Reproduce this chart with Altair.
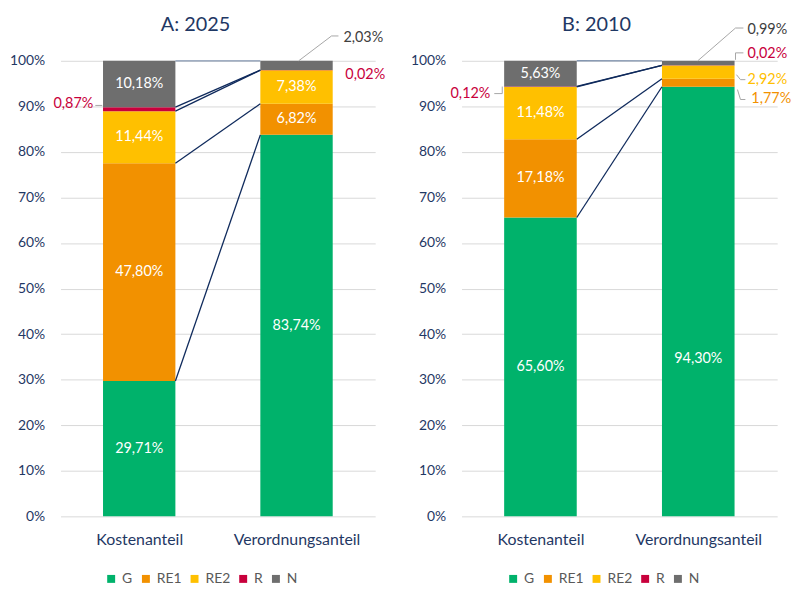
import altair as alt
import pandas as pd

# ---------------- data ----------------
segments = ["G", "RE1", "RE2", "R", "N"]
seg_colors = ["#00B26B", "#F29100", "#FFC000", "#C8003C", "#6E6E6E"]
categories = ["Kostenanteil", "Verordnungsanteil"]

a_kosten = [29.71, 47.80, 11.44, 0.87, 10.18]
a_verord = [83.74, 6.82, 7.38, 0.02, 2.03]
b_kosten = [65.60, 17.18, 11.48, 0.12, 5.63]
b_verord = [94.30, 1.77, 2.92, 0.02, 0.99]

title_a = "A: 2025"
title_b = "B: 2010"

# which segment labels sit inside the bar (True) or outside (False)
a_inside = [[True, True, True, False, True], [True, True, True, False, False]]
b_inside = [[True, True, True, False, True], [True, False, False, False, False]]

# ---------------- layout (not data) ----------------
NAVY = "#1F3864"
CENTERS = [1.0, 3.0]
HALF = 0.46
W_A, W_B, H = 317, 318, 459
FONT = "Lato"


def fmt(v):
    return f"{v:.2f}".replace(".", ",") + "%"


# manual label position overrides (bar index, segment index) -> y
a_label_y = {}
b_label_y = {(1, 0): 0.346}

# external label placement: (segment index, bar index, x, y, align)
a_ext = [(3, 0, 0.416, 0.906, "right"), (4, 1, 3.596, 1.050, "left"), (3, 1, 3.621, 0.9695, "left")]
a_lead = [
    [(3.028, 1.0), (3.445, 1.0545), (3.533, 1.0545)],
    [(0.442, 0.902), (0.53, 0.902)],
]
b_ext = [
    (3, 0, 0.365, 0.928, "right"),
    (4, 1, 3.623, 1.0675, "left"),
    (3, 1, 3.623, 1.0153, "left"),
    (2, 1, 3.623, 0.9586, "left"),
    (1, 1, 3.673, 0.915, "left"),
]
b_lead = [
    [(0.415, 0.928), (0.516, 0.928), (0.516, 0.9434)],
    [(2.994, 1.0), (3.472, 1.0719), (3.572, 1.0719)],
    [(3.472, 1.0022), (3.472, 1.0174), (3.572, 1.0174)],
    [(3.484, 0.9695), (3.535, 0.9586), (3.597, 0.9586)],
    [(3.497, 0.9368), (3.535, 0.915), (3.597, 0.915)],
]
ext_colors = {0: "#00B26B", 1: "#F29100", 2: "#FFC000", 3: "#C8003C", 4: "#404040"}


def make_panel(title, kosten, verord, inside, label_y, ext, leads, width, legend_x):
    rows = []
    for bi, vals in enumerate([kosten, verord]):
        cum = 0.0
        for si, v in enumerate(vals):
            y0 = cum / 100
            cum += v
            y1 = cum / 100
            rows.append(
                dict(cat=categories[bi], bi=bi, seg=segments[si], si=si,
                     xs=CENTERS[bi] - HALF, xe=CENTERS[bi] + HALF,
                     xc=CENTERS[bi],
                     y0=y0, y1=y1, ym=label_y.get((bi, si), (y0 + y1) / 2),
                     label=fmt(v), inside=inside[bi][si])
            )
    df = pd.DataFrame(rows)

    xscale = alt.Scale(domain=[0, 4], nice=False, zero=False)
    xaxis = alt.Axis(
        values=CENTERS, labelExpr="datum.value == 1 ? 'Kostenanteil' : 'Verordnungsanteil'",
        title=None, grid=False, ticks=False, domain=False, labelFontSize=16,
        labelColor=NAVY, labelFont=FONT, labelPadding=15,
    )
    yscale = alt.Scale(domain=[0, 1], nice=False)
    yaxis = alt.Axis(
        values=[i / 10 for i in range(11)], format="%", title=None, ticks=False,
        domain=False, labelFontSize=14, labelColor=NAVY, labelFont=FONT,
        labelPadding=16, gridColor="#D9D9D9", gridWidth=1,
    )

    def X(f):
        return alt.X(f, type="quantitative", scale=xscale, axis=xaxis)

    def Y(f):
        return alt.Y(f, type="quantitative", scale=yscale, axis=yaxis)

    bars = alt.Chart(df).mark_bar().encode(
        x=X("xs"), x2="xe", y=Y("y0"), y2="y1",
        color=alt.Color(
            "seg:N", scale=alt.Scale(domain=segments, range=seg_colors),
            legend=alt.Legend(
                orient="none", legendX=legend_x, legendY=515, direction="horizontal",
                title=None, symbolType="square", symbolSize=64, symbolStrokeWidth=0,
                labelFontSize=14, labelColor="#595959", labelFont=FONT,
                columnPadding=6, labelOffset=4,
            ),
        ),
    )

    # connectors between the segment tops of both bars
    conn = []
    for si in range(5):
        left = df[(df["bi"] == 0) & (df["si"] == si)].iloc[0]
        right = df[(df["bi"] == 1) & (df["si"] == si)].iloc[0]
        conn.append(dict(x=float(left["xe"]), x2=float(right["xs"]),
                         y=float(left["y1"]), y2=float(right["y1"]),
                         col="#8496B0" if si == 4 else "#0F2A5C"))
    conn_df = pd.DataFrame(conn)
    connectors = alt.Chart(conn_df).mark_rule(strokeWidth=1.3).encode(
        x=X("x"), x2="x2", y=Y("y"), y2="y2", color=alt.Color("col:N", scale=None)
    )

    inner = alt.Chart(df[df["inside"]]).mark_text(
        color="white", fontSize=14.5, font=FONT, baseline="middle", align="center"
    ).encode(x=X("xc"), y=Y("ym"), text="label:N")

    # leader lines
    lrows = []
    for pts in leads:
        for (x1, y1), (x2, y2) in zip(pts[:-1], pts[1:]):
            lrows.append(dict(x=x1, x2=x2, y=y1, y2=y2))
    leaders = alt.Chart(pd.DataFrame(lrows)).mark_rule(color="#A6A6A6", strokeWidth=1).encode(
        x=X("x"), x2="x2", y=Y("y"), y2="y2"
    )

    layers = [bars, connectors, inner, leaders]
    for align in ["left", "right"]:
        erows = []
        for si, bi, x, y, al in ext:
            if al == align:
                v = [kosten, verord][bi][si]
                erows.append(dict(x=x, y=y, label=fmt(v), col=ext_colors[si]))
        if erows:
            layers.append(
                alt.Chart(pd.DataFrame(erows)).mark_text(
                    fontSize=14.5, font=FONT, baseline="middle", align=align
                ).encode(x=X("x"), y=Y("y"), text="label:N",
                         color=alt.Color("col:N", scale=None))
            )

    ttl = alt.Chart(pd.DataFrame({"t": [title]})).mark_text(
        fontSize=20, font=FONT, color=NAVY, align="center", baseline="middle"
    ).encode(x=alt.value(136), y=alt.value(-36), text="t:N")
    layers.append(ttl)

    return alt.layer(*layers).properties(width=width, height=H)


panel_a = make_panel(title_a, a_kosten, a_verord, a_inside, a_label_y, a_ext, a_lead, W_A, 44)
panel_b = make_panel(title_b, b_kosten, b_verord, b_inside, b_label_y, b_ext, b_lead, W_B, 45)

chart = (
    alt.hconcat(panel_a, panel_b, spacing=87, bounds="flush")
    .resolve_scale(color="independent")
    .properties(
        autosize=alt.AutoSizeParams(type="pad"),
        padding={"left": 9, "top": 13, "right": 8, "bottom": 10},
        background="white",
    )
    .configure_view(stroke=None)
)

chart.save("out.html", embed_options={"renderer": "svg", "actions": False})
